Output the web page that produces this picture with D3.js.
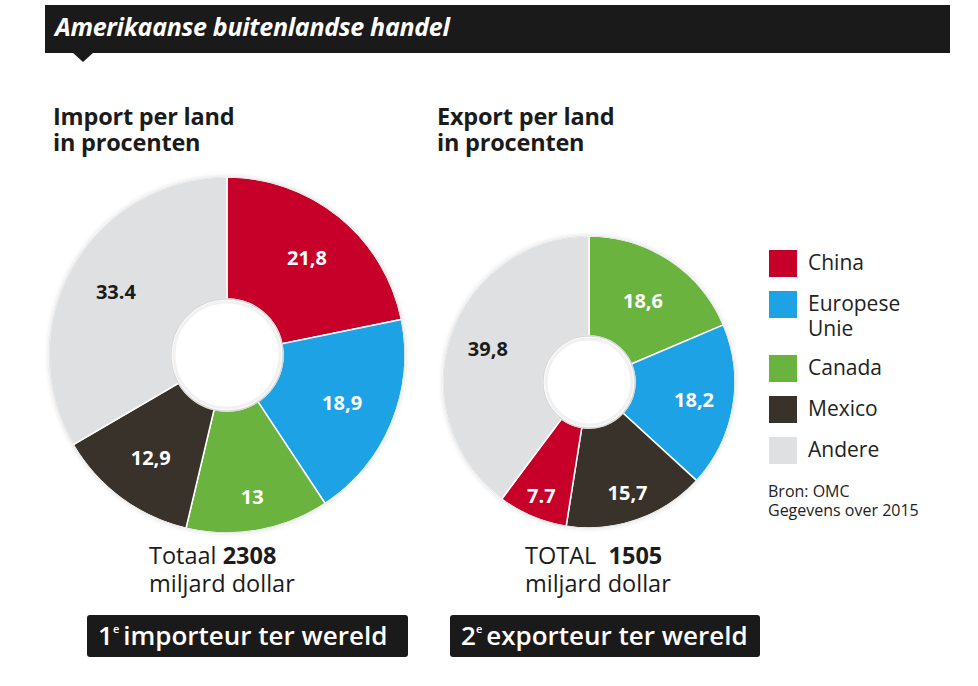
<!DOCTYPE html>
<html>
<head>
<meta charset="utf-8">
<title>Amerikaanse buitenlandse handel</title>
<script src="https://d3js.org/d3.v7.min.js"></script>
<style>
  body { margin: 0; background: #fff; }
  svg { display: block; font-family: "Open Sans", "Noto Sans", sans-serif; }
  .sub { font-size: 23.5px; font-weight: 700; fill: #1b1b1b; letter-spacing: -0.2px; }
  .slice-label { font-size: 20px; font-weight: 700; text-anchor: middle; dominant-baseline: central; }
  .legend-text { font-size: 21px; fill: #222; }
  .src { font-size: 16px; fill: #222; }
  .total { font-size: 23.5px; fill: #1b1b1b; }
  .badge { font-size: 26px; font-weight: 600; fill: #fff; }
</style>
</head>
<body>
<div id="chart"></div>
<script>
// categories + colours
const categories = ["China", "Europese Unie", "Canada", "Mexico", "Andere"];
const colors = ["#c60028", "#1ea2e6", "#6ab33f", "#38322a", "#dfe0e2"];

// import (clockwise from top)
const importCats = ["China", "Europese Unie", "Canada", "Mexico", "Andere"];
const importValues = [21.8, 18.9, 13, 12.9, 33.4];
const importLabels = ["21,8", "18,9", "13", "12,9", "33.4"];

// export (clockwise from top)
const exportCats = ["Canada", "Europese Unie", "Mexico", "China", "Andere"];
const exportValues = [18.6, 18.2, 15.7, 7.7, 39.8];
const exportLabels = ["18,6", "18,2", "15,7", "7.7", "39,8"];

// where the value labels sit, as a share of the outer radius (layout only)
const importLabelPos = [0.71, 0.70, 0.81, 0.72, 0.72];
const exportLabelPos = [0.67, 0.73, 0.80, 0.84, 0.73];

const W = 978, H = 686;
const svg = d3.select("#chart").append("svg")
  .attr("width", W).attr("height", H);

const defs = svg.append("defs");
const sh = defs.append("filter").attr("id", "shadow")
  .attr("x", "-10%").attr("y", "-10%").attr("width", "120%").attr("height", "120%");
sh.append("feDropShadow").attr("dx", 0).attr("dy", 0)
  .attr("stdDeviation", 2.5).attr("flood-color", "#000").attr("flood-opacity", 0.18);

// title bar
svg.append("rect").attr("x", 45).attr("y", 5).attr("width", 905).attr("height", 48).attr("fill", "#1b1a1a");
svg.append("path").attr("d", "M72,52 L94,52 L83,62 Z").attr("fill", "#1b1a1a");
svg.append("text").attr("x", 55).attr("y", 36)
  .attr("fill", "#fff").attr("font-size", 25).attr("font-weight", 700).attr("font-style", "italic")
  .attr("letter-spacing", -0.3)
  .text("Amerikaanse buitenlandse handel");

// subtitles
function subtitle(x, l1, l2) {
  svg.append("text").attr("class", "sub").attr("x", x).attr("y", 125).text(l1);
  svg.append("text").attr("class", "sub").attr("x", x).attr("y", 151).text(l2);
}
subtitle(53, "Import per land", "in procenten");
subtitle(437, "Export per land", "in procenten");

const color = d3.scaleOrdinal().domain(categories).range(colors);

function donut(cx, cy, R, r, cats, values, labels, labelPos) {
  const data = cats.map((c, i) => ({ cat: c, v: values[i], label: labels[i], lp: labelPos[i] }));
  const pie = d3.pie().sort(null).value(d => d.v);
  const arcs = pie(data);
  const arc = d3.arc().innerRadius(r).outerRadius(R);

  const g = svg.append("g").attr("transform", `translate(${cx},${cy})`);
  g.append("circle").attr("r", R).attr("fill", "#fff").attr("filter", "url(#shadow)");
  g.selectAll("path.slice").data(arcs).enter().append("path")
    .attr("class", "slice")
    .attr("d", arc)
    .attr("fill", d => color(d.data.cat))
    .attr("stroke", "#fff").attr("stroke-width", 1.5);
  g.append("circle").attr("r", R).attr("fill", "none").attr("stroke", "#e4e4e4").attr("stroke-width", 1);
  g.append("circle").attr("r", r).attr("fill", "#fff").attr("stroke", "#d9d9d9").attr("stroke-width", 1.5);
  g.append("circle").attr("r", r - 3).attr("fill", "none").attr("stroke", "#f1f1f1").attr("stroke-width", 3);

  g.selectAll("text.slice-label").data(arcs).enter().append("text")
    .attr("class", "slice-label")
    .attr("transform", d => {
      const lr = R * d.data.lp;
      return `translate(${d3.arc().innerRadius(lr).outerRadius(lr).centroid(d)})`;
    })
    .attr("fill", d => d.data.cat === "Andere" ? "#1b1b1b" : "#fff")
    .text(d => d.data.label);
}
donut(227, 355, 178, 56, importCats, importValues, importLabels, importLabelPos);
donut(589, 382, 146, 46, exportCats, exportValues, exportLabels, exportLabelPos);

// legend
const legendY = [250, 291, 355, 396, 437];
const lg = svg.append("g");
categories.forEach((c, i) => {
  lg.append("rect").attr("x", 769).attr("y", legendY[i]).attr("width", 28).attr("height", 27).attr("fill", colors[i]);
  const t = lg.append("text").attr("class", "legend-text").attr("x", 808).attr("y", legendY[i] + 20);
  const parts = c === "Europese Unie" ? ["Europese", "Unie"] : [c];
  parts.forEach((p, j) => t.append("tspan").attr("x", 808).attr("dy", j ? 25 : 0).text(p));
});
svg.append("text").attr("class", "src").attr("x", 768).attr("y", 497).text("Bron: OMC");
svg.append("text").attr("class", "src").attr("x", 768).attr("y", 516).text("Gegevens over 2015");

// totals
function total(x, word, num) {
  const t = svg.append("text").attr("class", "total").attr("x", x).attr("y", 564);
  t.append("tspan").text(word);
  t.append("tspan").attr("font-weight", 700).text(num);
  svg.append("text").attr("class", "total").attr("x", x).attr("y", 592).text("miljard dollar");
}
total(149, "Totaal ", "2308");
total(525, "TOTAL\u00a0\u00a0", "1505");

// badges
function badge(x, w, n, rest) {
  svg.append("rect").attr("x", x).attr("y", 615).attr("width", w).attr("height", 42)
    .attr("rx", 3).attr("fill", "#1b1a1a");
  const t = svg.append("text").attr("class", "badge").attr("x", x + 11).attr("y", 645);
  t.append("tspan").text(n);
  t.append("tspan").attr("font-size", 11).attr("dy", -12).text("e");
  t.append("tspan").attr("dy", 12).attr("dx", 4).text(rest);
}
badge(87, 321, "1", "importeur ter wereld");
badge(450, 310, "2", "exporteur ter wereld");
</script>
</body>
</html>
